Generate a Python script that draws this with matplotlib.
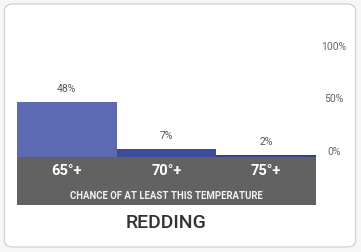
import matplotlib
matplotlib.use("Agg")
import matplotlib.pyplot as plt
from matplotlib.patches import FancyBboxPatch, Rectangle

plt.rcParams['font.family'] = ['Roboto', 'DejaVu Sans']

# data
categories = ['65°+', '70°+', '75°+']
chances = [48, 7, 2]
bar_colors = ['#5b6ab3', '#3e4d9b', '#33418f']
ytick_vals = [0, 50, 100]
ytick_labels = ['0%', '50%', '100%']
caption = 'CHANCE OF AT LEAST THIS TEMPERATURE'
city = 'REDDING'

W, H = 361, 252
fig = plt.figure(figsize=(W / 100, H / 100), dpi=100)
fig.patch.set_facecolor('#f7f7f7')

# card
card = FancyBboxPatch((4.5 / W, 5 / H), 351 / W, 243 / H,
                      boxstyle='round,pad=0,rounding_size=0.025',
                      transform=fig.transFigure, facecolor='white',
                      edgecolor='#d4d4d4', linewidth=1.0, zorder=-3)
fig.patches.append(card)

# gray band under bars
band = Rectangle((17 / W, (H - 205) / H), 299 / W, 48 / H,
                 transform=fig.transFigure, facecolor='#626262',
                 edgecolor='none', zorder=-2)
fig.patches.append(band)

ax = fig.add_axes([17 / W, (H - 157) / H, 299 / W, 115 / H])
ax.set_facecolor('none')
x = range(len(categories))
bars = ax.bar(x, chances, width=1.0, color=bar_colors)
ax.set_xlim(-0.5, 2.5)
ax.set_ylim(0, 100)

for b, v in zip(bars, chances):
    ax.annotate(f'{v}%', (b.get_x() + b.get_width() / 2, v),
                xytext=(0, 8), textcoords='offset pixels',
                ha='center', va='bottom', fontsize=7.5, color='#555555')

for s in ax.spines.values():
    s.set_visible(False)

ax.set_xticks(list(x))
ax.set_xticklabels(categories, color='white', fontsize=10.5, fontweight='bold')
ax.tick_params(axis='x', length=0, pad=5)

ax.yaxis.tick_right()
ax.set_yticks(ytick_vals)
ax.set_yticklabels(ytick_labels, fontsize=7.5, color='#666666')
ax.tick_params(axis='y', length=0, pad=13)
for lab, va in zip(ax.get_yticklabels(), ['bottom', 'center', 'top']):
    lab.set_horizontalalignment('center')
    lab.set_verticalalignment(va)

fig.text(166.5 / W, (H - 196) / H, caption, ha='center', va='center',
         fontsize=6.9, fontweight='bold', color='#f2f2f2')
fig.text(166.5 / W, (H - 223) / H, city, ha='center', va='center',
         fontsize=14, fontweight='medium', color='#333333')

fig.savefig('out.png', dpi=100, facecolor=fig.get_facecolor())
